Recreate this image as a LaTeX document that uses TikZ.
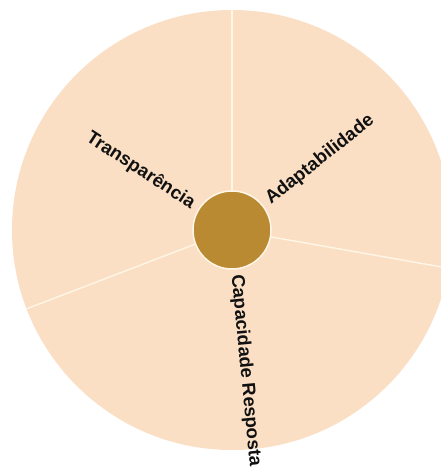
\documentclass[tikz,border=0pt]{standalone}
\usepackage{fontspec}
\setmainfont{Liberation Sans}
\usetikzlibrary{calc}
\definecolor{peach}{RGB}{250,223,196}
\definecolor{gold}{RGB}{185,138,50}
\definecolor{cream}{RGB}{255,246,232}
\definecolor{ink}{RGB}{17,17,17}
\tikzset{
  disc/.style={circle, fill=peach, minimum size=440pt, inner sep=0pt, outer sep=0pt},
  hubnode/.style={circle, fill=gold, draw=cream, line width=1.5pt, minimum size=78pt, inner sep=0pt, outer sep=0pt},
  sep/.style={draw=cream, line width=1.4pt},
  lbl/.style={text=ink, font=\bfseries\fontsize{18.5}{20}\selectfont, inner sep=0pt}
}
\begin{document}
\begin{tikzpicture}[x=1pt,y=1pt]
\useasboundingbox (0,0) rectangle (441,472);
\fill[white] (0,0) rectangle (441,472);
\clip (0,0) rectangle (441,472);
\coordinate (c) at (232,242);
\node[disc] (disk) at (c) {};
\node[hubnode] (hub) at (c) {};
\draw[sep] (hub) -- (disk.90);
\draw[sep] (hub) -- (disk.-10.5);
\draw[sep] (hub) -- (disk.201.5);
\node[lbl, rotate=38.5, anchor=west] (adapt) at ($(c)+(38.5:46)$) {Adaptabilidade};
\node[lbl, rotate=-33, anchor=east] (transp) at ($(c)+(147:46)$) {Transparência};
\node[lbl, rotate=-84.5, anchor=west] (capac) at ($(c)+(-84.5:45)$) {Capacidade Resposta};
\end{tikzpicture}
\end{document}
